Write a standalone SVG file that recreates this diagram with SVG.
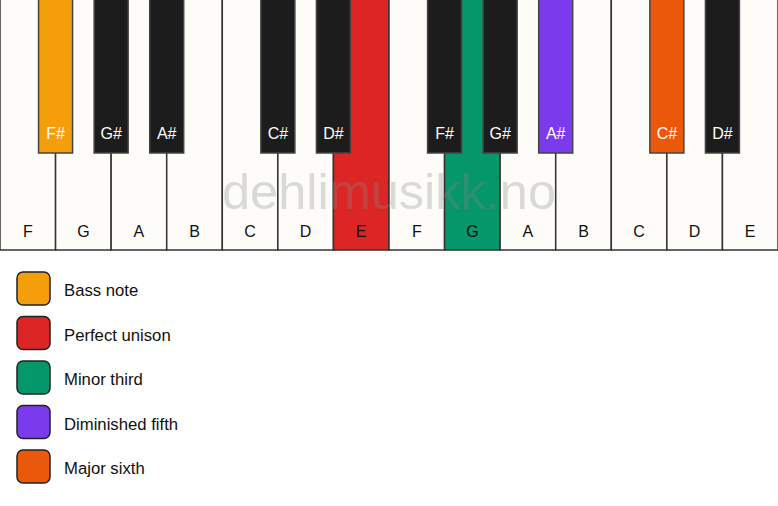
<svg xmlns="http://www.w3.org/2000/svg" width="778" height="506" viewBox="0 0 778 506">
<style>
.w{fill:#fdfcf8;stroke:#333;stroke-width:1.5}
.b{fill:#1c1c1c;stroke:#444;stroke-width:1.5}
.wl{font-family:"Liberation Sans",Arial,sans-serif;font-size:16px;fill:#111;text-anchor:middle}
.bl{font-family:"Liberation Sans",Arial,sans-serif;font-size:16px;fill:#fff;text-anchor:middle}
.lg{stroke:#222;stroke-width:1.5}
.lt{font-family:"Liberation Sans",Arial,sans-serif;font-size:16.7px;fill:#111}
.wm{font-family:"Liberation Sans",Arial,sans-serif;font-size:50.5px;fill:#888;fill-opacity:0.3;text-anchor:middle}
</style>
<rect width="778" height="506" fill="#ffffff"/>
<g id="white-keys">
<g id="wk-F1"><rect class="w" x="0" y="-2" width="55.57" height="252"/><text class="wl" x="27.8" y="237">F</text></g>
<g id="wk-G1"><rect class="w" x="55.57" y="-2" width="55.57" height="252"/><text class="wl" x="83.4" y="237">G</text></g>
<g id="wk-A1"><rect class="w" x="111.14" y="-2" width="55.57" height="252"/><text class="wl" x="138.9" y="237">A</text></g>
<g id="wk-B1"><rect class="w" x="166.71" y="-2" width="55.57" height="252"/><text class="wl" x="194.5" y="237">B</text></g>
<g id="wk-C1"><rect class="w" x="222.29" y="-2" width="55.57" height="252"/><text class="wl" x="250.1" y="237">C</text></g>
<g id="wk-D1"><rect class="w" x="277.86" y="-2" width="55.57" height="252"/><text class="wl" x="305.6" y="237">D</text></g>
<g id="wk-E1"><rect class="w" style="fill:#dc2626" x="333.43" y="-2" width="55.57" height="252"/><text class="wl" x="361.2" y="237">E</text></g>
<g id="wk-F2"><rect class="w" x="389" y="-2" width="55.57" height="252"/><text class="wl" x="416.8" y="237">F</text></g>
<g id="wk-G2"><rect class="w" style="fill:#059669" x="444.57" y="-2" width="55.57" height="252"/><text class="wl" x="472.4" y="237">G</text></g>
<g id="wk-A2"><rect class="w" x="500.14" y="-2" width="55.57" height="252"/><text class="wl" x="527.9" y="237">A</text></g>
<g id="wk-B2"><rect class="w" x="555.71" y="-2" width="55.57" height="252"/><text class="wl" x="583.5" y="237">B</text></g>
<g id="wk-C2"><rect class="w" x="611.29" y="-2" width="55.57" height="252"/><text class="wl" x="639.1" y="237">C</text></g>
<g id="wk-D2"><rect class="w" x="666.86" y="-2" width="55.57" height="252"/><text class="wl" x="694.6" y="237">D</text></g>
<g id="wk-E2"><rect class="w" x="722.43" y="-2" width="55.57" height="252"/><text class="wl" x="750.2" y="237">E</text></g>
</g>
<g id="black-keys">
<g id="bk-Fs1"><rect class="b" style="fill:#f59e0b" x="38.57" y="-2" width="34" height="155"/><text class="bl" x="55.57" y="139">F#</text></g>
<g id="bk-Gs1"><rect class="b" x="94.14" y="-2" width="34" height="155"/><text class="bl" x="111.14" y="139">G#</text></g>
<g id="bk-As1"><rect class="b" x="149.71" y="-2" width="34" height="155"/><text class="bl" x="166.71" y="139">A#</text></g>
<g id="bk-Cs1"><rect class="b" x="260.86" y="-2" width="34" height="155"/><text class="bl" x="277.86" y="139">C#</text></g>
<g id="bk-Ds1"><rect class="b" x="316.43" y="-2" width="34" height="155"/><text class="bl" x="333.43" y="139">D#</text></g>
<g id="bk-Fs2"><rect class="b" x="427.57" y="-2" width="34" height="155"/><text class="bl" x="444.57" y="139">F#</text></g>
<g id="bk-Gs2"><rect class="b" x="483.14" y="-2" width="34" height="155"/><text class="bl" x="500.14" y="139">G#</text></g>
<g id="bk-As2"><rect class="b" style="fill:#7c3aed" x="538.71" y="-2" width="34" height="155"/><text class="bl" x="555.71" y="139">A#</text></g>
<g id="bk-Cs2"><rect class="b" style="fill:#ea580c" x="649.86" y="-2" width="34" height="155"/><text class="bl" x="666.86" y="139">C#</text></g>
<g id="bk-Ds2"><rect class="b" x="705.43" y="-2" width="34" height="155"/><text class="bl" x="722.43" y="139">D#</text></g>
</g>
<text class="wm" x="389" y="209">dehlimusikk.no</text>
<g id="legend">
<g id="lg-bass"><rect class="lg" x="17" y="272" width="33" height="33" rx="6" fill="#f59e0b"/><text class="lt" x="64" y="296">Bass note</text></g>
<g id="lg-unison"><rect class="lg" x="17" y="316.5" width="33" height="33" rx="6" fill="#dc2626"/><text class="lt" x="64" y="340.5">Perfect unison</text></g>
<g id="lg-minor3"><rect class="lg" x="17" y="361" width="33" height="33" rx="6" fill="#059669"/><text class="lt" x="64" y="385">Minor third</text></g>
<g id="lg-dim5"><rect class="lg" x="17" y="405.5" width="33" height="33" rx="6" fill="#7c3aed"/><text class="lt" x="64" y="429.5">Diminished fifth</text></g>
<g id="lg-maj6"><rect class="lg" x="17" y="450" width="33" height="33" rx="6" fill="#ea580c"/><text class="lt" x="64" y="474">Major sixth</text></g>
</g>
</svg>
